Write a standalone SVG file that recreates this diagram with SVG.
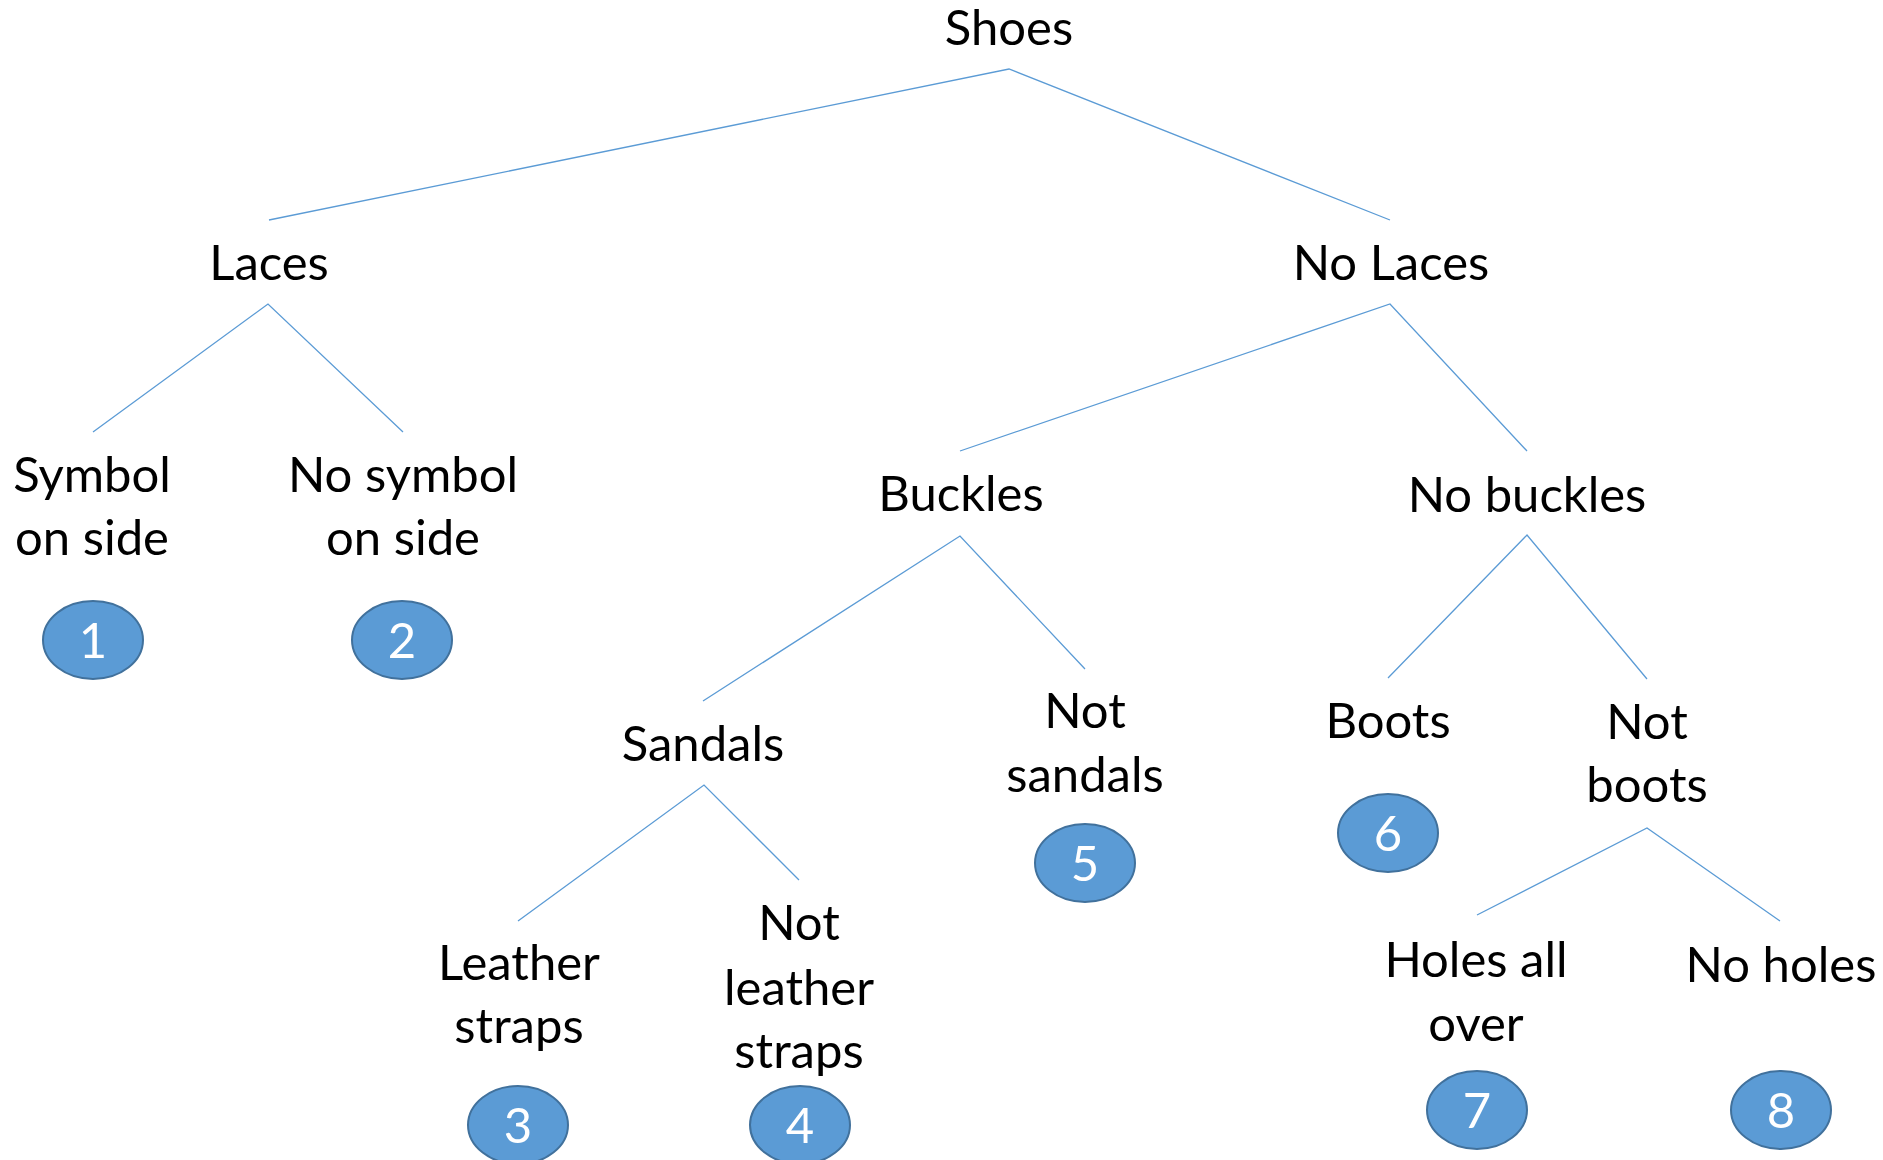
<svg xmlns="http://www.w3.org/2000/svg" width="1883" height="1160" viewBox="0 0 1883 1160">
<style>
  .lbl { font-family: Lato, "Open Sans", "Liberation Sans", sans-serif; font-size: 49px; fill: #000; text-anchor: middle; }
  .num { font-family: Lato, "Open Sans", "Liberation Sans", sans-serif; font-size: 49px; fill: #fff; text-anchor: middle; }
  .oval { fill: #5B9BD5; stroke: #41719C; stroke-width: 2; }
  .edge { fill: none; stroke: #5B9BD5; stroke-width: 1.3; }
</style>
<rect width="1883" height="1160" fill="#fff"/>
<g id="connectors">
  <polyline class="edge" points="269,220 1009,69 1390,220"/>
  <polyline class="edge" points="93,432 268,304 403,432"/>
  <polyline class="edge" points="960,451 1390,304 1527,451"/>
  <polyline class="edge" points="703,701 960,536 1085,669"/>
  <polyline class="edge" points="1388,678 1527,535 1647,679"/>
  <polyline class="edge" points="518,921 704,785 799,880"/>
  <polyline class="edge" points="1477,915 1647,828 1780,921"/>
</g>
<g id="shoes"><text class="lbl" x="1009" y="45">Shoes</text></g>
<g id="laces"><text class="lbl" x="269" y="280">Laces</text></g>
<g id="no-laces"><text class="lbl" x="1391" y="280">No Laces</text></g>
<g id="symbol"><text class="lbl" x="92" y="492">Symbol</text><text class="lbl" x="92" y="555">on side</text></g>
<g id="no-symbol"><text class="lbl" x="403" y="492">No symbol</text><text class="lbl" x="403" y="555">on side</text></g>
<g id="buckles"><text class="lbl" x="961" y="511">Buckles</text></g>
<g id="no-buckles"><text class="lbl" x="1527" y="512">No buckles</text></g>
<g id="sandals"><text class="lbl" x="703" y="761">Sandals</text></g>
<g id="not-sandals"><text class="lbl" x="1085" y="728">Not</text><text class="lbl" x="1085" y="792">sandals</text></g>
<g id="boots"><text class="lbl" x="1388" y="738">Boots</text></g>
<g id="not-boots"><text class="lbl" x="1647" y="739">Not</text><text class="lbl" x="1647" y="802">boots</text></g>
<g id="leather"><text class="lbl" x="519" y="980">Leather</text><text class="lbl" x="519" y="1043">straps</text></g>
<g id="not-leather"><text class="lbl" x="799" y="940">Not</text><text class="lbl" x="799" y="1005">leather</text><text class="lbl" x="799" y="1068">straps</text></g>
<g id="holes"><text class="lbl" x="1476" y="977">Holes all</text><text class="lbl" x="1476" y="1041">over</text></g>
<g id="no-holes"><text class="lbl" x="1781" y="982">No holes</text></g>
<g id="n1"><ellipse class="oval" cx="93" cy="640" rx="50" ry="39"/><text class="num" x="93" y="658">1</text></g>
<g id="n2"><ellipse class="oval" cx="402" cy="640" rx="50" ry="39"/><text class="num" x="402" y="658">2</text></g>
<g id="n3"><ellipse class="oval" cx="518" cy="1125" rx="50" ry="39"/><text class="num" x="518" y="1143">3</text></g>
<g id="n4"><ellipse class="oval" cx="800" cy="1125" rx="50" ry="39"/><text class="num" x="800" y="1143">4</text></g>
<g id="n5"><ellipse class="oval" cx="1085" cy="863" rx="50" ry="39"/><text class="num" x="1085" y="881">5</text></g>
<g id="n6"><ellipse class="oval" cx="1388" cy="833" rx="50" ry="39"/><text class="num" x="1388" y="851">6</text></g>
<g id="n7"><ellipse class="oval" cx="1477" cy="1110" rx="50" ry="39"/><text class="num" x="1477" y="1128">7</text></g>
<g id="n8"><ellipse class="oval" cx="1781" cy="1110" rx="50" ry="39"/><text class="num" x="1781" y="1128">8</text></g>
</svg>
